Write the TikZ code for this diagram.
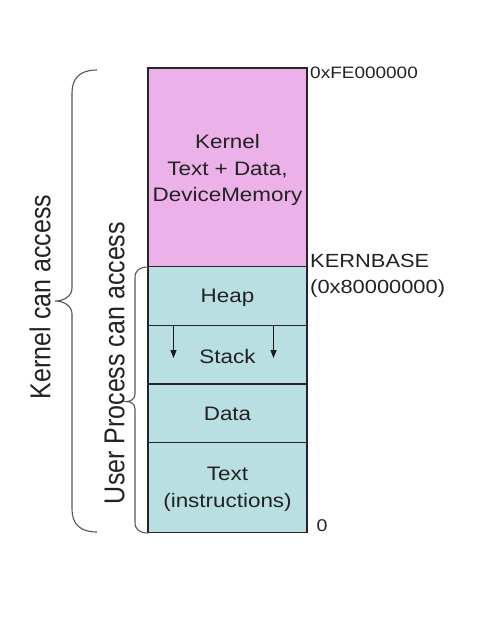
\documentclass[tikz,border=0pt]{standalone}
\usepackage{fontspec}
\setmainfont{Liberation Sans}
\usepackage{tikz}
\usetikzlibrary{arrows.meta}
\definecolor{kernelpink}{HTML}{EBB1E8}
\definecolor{userteal}{HTML}{B9DFE3}
\definecolor{inkgray}{HTML}{222222}
\definecolor{bracegray}{HTML}{555555}

\tikzset{
  wide/.style={xscale=1.15, inner sep=0pt, text=inkgray},
  boxtext/.style={wide, align=center, font=\fontsize{19.5}{26.7}\selectfont},
  addr/.style={wide, anchor=west, align=left, font=\fontsize{19}{26.3}\selectfont},
  sidetext/.style={rotate=90, yscale=1.15, inner sep=0pt, text=inkgray,
    font=\fontsize{25}{30}\selectfont},
  brace/.style={draw=bracegray, line width=1.1pt},
  seg/.style={draw=black!85, line width=1.1pt},
  growarrow/.style={-{Triangle[width=6pt,length=8pt]}, line width=1pt, black!90}
}

\begin{document}
\begin{tikzpicture}[x=1pt, y=-1pt]
  \useasboundingbox (0,0) rectangle (487,623);

  % segmente der speicherkarte
  \draw[seg, fill=kernelpink] (148,68) rectangle (307,266.5);
  \draw[seg, fill=userteal] (148,266.5) rectangle (307,325.5);
  \draw[seg, fill=userteal] (148,325.5) rectangle (307,384);
  \draw[seg, fill=userteal] (148,384) rectangle (307,442.5);
  \draw[seg, fill=userteal] (148,442.5) rectangle (307,532.5);

  % beschriftung innen
  \node[boxtext] (kernel) at (227.5,170) {Kernel\\Text + Data,\\DeviceMemory};
  \node[boxtext] (heap) at (227.5,298) {Heap};
  \node[boxtext] (stack) at (227.5,356.5) {Stack};
  \node[boxtext] (data) at (227.5,413.5) {Data};
  \node[boxtext] (text) at (227.5,489.5) {Text\\(instructions)};

  % stack waechst nach unten
  \coordinate (lefttop) at (173.5,325.5);
  \coordinate (leftend) at (173.5,358);
  \coordinate (righttop) at (273.5,325.5);
  \coordinate (rightend) at (273.5,358);
  \draw[growarrow] (lefttop) -- (leftend);
  \draw[growarrow] (righttop) -- (rightend);

  % adressen rechts
  \node[addr, font=\fontsize{16.5}{20}\selectfont] (top) at (310,72.5) {0xFE000000};
  \node[addr] (kernbase) at (310,276) {KERNBASE\\(0x80000000)};
  \node[addr, font=\fontsize{17}{20}\selectfont] (zero) at (316.5,526) {0};

  % klammern links
  \draw[brace] (97,70) .. controls (80,70) and (72,78) .. (72,93)
    -- (72,288) .. controls (72,296) and (64,301) .. (55,301)
    .. controls (64,301) and (72,306) .. (72,314)
    -- (72,509) .. controls (72,524) and (80,532) .. (97,532);
  \draw[brace] (148,267) .. controls (140,267) and (135,270) .. (135,278)
    -- (135,394) .. controls (135,399) and (131,401.5) .. (126,401.5)
    .. controls (131,401.5) and (135,404) .. (135,409)
    -- (135,522) .. controls (135,530) and (140,533) .. (148,533);

  \node[sidetext] (kaccess) at (40,297) {Kernel can access};
  \node[sidetext] (uaccess) at (114.5,363) {User Process can access};
\end{tikzpicture}
\end{document}
